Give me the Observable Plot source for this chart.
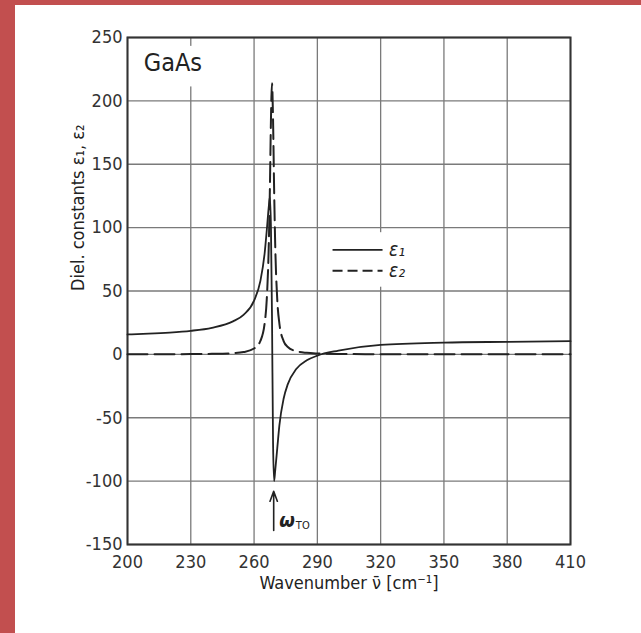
<!DOCTYPE html>
<html>
<head>
<meta charset="utf-8">
<script src="https://cdn.jsdelivr.net/npm/d3@7"></script>
<script src="https://cdn.jsdelivr.net/npm/@observablehq/plot@0.6"></script>
<style>
  html, body { margin: 0; padding: 0; background: white; }
  #wrap { position: relative; width: 641px; height: 633px; overflow: hidden; }
  #bl { position: absolute; left: 0; top: 0; width: 15px; height: 633px; background: #c24f4f; }
  #bt { position: absolute; left: 0; top: 0; width: 641px; height: 5px; background: #c24f4f; }
  #chart { position: absolute; left: 0; top: 0; }
  #chart svg text { font-stretch: condensed; }
</style>
</head>
<body>
<div id="wrap"><div id="chart"></div><div id="bl"></div><div id="bt"></div></div>
<script>
const wavenumber = [200,210,220,230,240,250,255,260,263,265,266,267,267.5,268,268.5,269,269.5,270,271,272,274,276,280,285,290,300,320,350,380,410];
const eps1 = [15.7,16.3,17.2,18.6,21.0,26.0,31.2,42.4,58,79.6,97.5,117,124,100,30,-70,-100,-92,-74,-56,-35,-23.5,-11.6,-4.7,-1,3,7.5,9.3,9.9,10.4];
const eps2 = [0.07,0.1,0.14,0.23,0.41,0.98,1.8,4.6,10.6,24.3,43,88,131,185,214,185,131,88,43,24.3,10.5,5.8,2.5,1.2,0.7,0.34,0.13,0.06,0.04,0.03];
const xTicks = [200,230,260,290,320,350,380,410];
const yTicks = [-150,-100,-50,0,50,100,150,200,250];
const seriesNames = ["ε₁","ε₂"];
const material = "GaAs";
const xLabel = "Wavenumber ν̄ [cm⁻¹]";
const yLabel = "Diel. constants ε₁, ε₂";
const omegaTO = 269.3;

const data = wavenumber.map((w, i) => ({w, e1: eps1[i], e2: eps2[i]}));

const font = "'DejaVu Sans Condensed', 'DejaVu Sans', sans-serif";
const ink = "#222";

const chart = Plot.plot({
  width: 641, height: 633,
  marginLeft: 127, marginRight: 71, marginTop: 37, marginBottom: 89,
  x: {domain: [200, 410]},
  y: {domain: [-150, 250]},
  style: {fontFamily: font, fontSize: "18px", color: "#333", background: "transparent"},
  marks: [
    Plot.gridX(xTicks, {stroke: "#7a7a7a", strokeOpacity: 1, strokeWidth: 1.3}),
    Plot.gridY(yTicks, {stroke: "#7a7a7a", strokeOpacity: 1, strokeWidth: 1.3}),
    // white boxes behind label and legend
    Plot.rect([{x1: 206, x2: 237, y1: 211, y2: 243}], {x1: "x1", x2: "x2", y1: "y1", y2: "y2", fill: "white"}),
    Plot.rect([{x1: 294, x2: 338, y1: 53, y2: 96}], {x1: "x1", x2: "x2", y1: "y1", y2: "y2", fill: "white"}),
    Plot.frame({stroke: "#333", strokeWidth: 2}),
    Plot.axisX(xTicks, {tickSize: 0, tickPadding: 11, label: null, fill: "#333", tickFormat: d => String(d)}),
    Plot.axisY(yTicks, {tickSize: 0, tickPadding: 5, label: null, fill: "#333", tickFormat: d => String(d)}),
    Plot.line(data, {x: "w", y: "e2", stroke: ink, strokeWidth: 2, strokeDasharray: "20,7", curve: "monotone-x"}),
    Plot.line(data, {x: "w", y: "e1", stroke: ink, strokeWidth: 1.8, curve: "monotone-x"}),
    // legend
    Plot.link([{x1: 297.2, x2: 320.9, y: 82.4}], {x1: "x1", x2: "x2", y1: "y", y2: "y", stroke: ink, strokeWidth: 1.8}),
    Plot.link([{x1: 297.2, x2: 320.9, y: 66}], {x1: "x1", x2: "x2", y1: "y", y2: "y", stroke: ink, strokeWidth: 2, strokeDasharray: "10,5"}),
    Plot.text([{x: 324, y: 82.4, t: seriesNames[0]}, {x: 324, y: 66, t: seriesNames[1]}], {x: "x", y: "y", text: "t", textAnchor: "start", fontSize: 19, fontStyle: "italic", fill: ink, fontFamily: "'DejaVu Sans', sans-serif"}),
    // material label
    Plot.text([material], {x: 221.5, y: 230, fontSize: 25, fill: ink}),
    // omega TO annotation
    Plot.arrow([{x: omegaTO, y1: -139, y2: -108}], {x1: "x", x2: "x", y1: "y1", y2: "y2", stroke: ink, strokeWidth: 1.6, headLength: 10, headAngle: 40}),
    Plot.text(["ω"], {x: omegaTO + 2.6, y: -131, textAnchor: "start", fontSize: 20, fontStyle: "italic", fontWeight: "bold", fill: ink, fontFamily: "'DejaVu Sans', sans-serif"}),
    Plot.text(["TO"], {x: omegaTO + 10.5, y: -135, textAnchor: "start", fontSize: 11, fill: ink}),
    // axis labels
    Plot.text([xLabel], {frameAnchor: "bottom", dy: 44, fontSize: 18, fill: ink}),
    Plot.text([yLabel], {frameAnchor: "left", dx: -49, rotate: -90, fontSize: 18, fill: ink})
  ]
});
document.getElementById("chart").appendChild(chart);
</script>
</body>
</html>
